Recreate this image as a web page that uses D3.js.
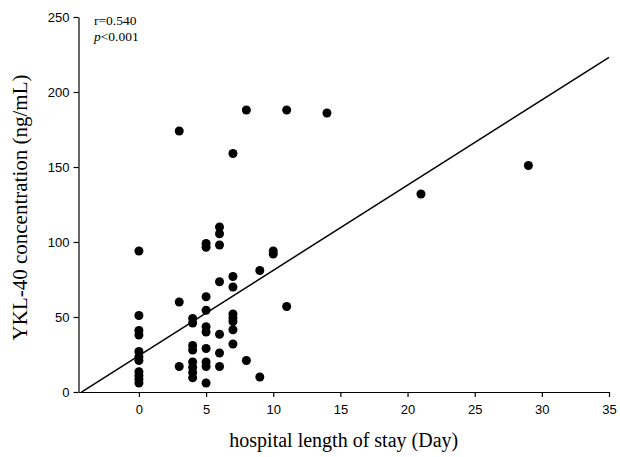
<!DOCTYPE html>
<html>
<head>
<meta charset="utf-8">
<script src="https://cdn.jsdelivr.net/npm/d3@7"></script>
<style>
  body { margin: 0; background: #fff; }
  .tick text { font-family: "Liberation Sans", Arial, sans-serif; font-size: 13px; }
</style>
</head>
<body>
<script>
// hospital stay (days) and YKL-40 (ng/mL)
var stayDays = [
  0, 0, 0, 0, 0, 0, 0, 0, 0, 0, 0,
  3, 3, 3,
  4, 4, 4, 4, 4, 4, 4, 4,
  5, 5, 5, 5, 5, 5, 5, 5, 5, 5,
  6, 6, 6, 6, 6, 6, 6,
  7, 7, 7, 7, 7, 7, 7, 7,
  8, 8,
  9, 9,
  10, 10,
  11, 11,
  14, 21, 29
];
var ykl40 = [
  94, 51, 41, 38, 27, 23.5, 21, 13.5, 11, 8.5, 6,
  174, 60, 17,
  49, 46, 31, 28, 20, 16.5, 13, 9.5,
  99, 96.5, 63.5, 54.5, 43.5, 40, 29, 20, 17, 6,
  110, 105.5, 98, 73.5, 38.5, 26, 17,
  159, 77, 70, 52, 49.5, 47, 41.5, 32,
  188, 21,
  81, 10,
  94, 92,
  188, 57,
  186, 132, 151
];
var xTicks = [0, 5, 10, 15, 20, 25, 30, 35];
var yTicks = [0, 50, 100, 150, 200, 250];
// fitted line: intercept, slope, and x range drawn
var fitIntercept = 24.3;
var fitSlope = 5.68;
var fitRange = [-4.28, 35];
var stats = ["r=0.540", "p<0.001"];

var width = 620;
var height = 457;

var svg = d3.select('body').append('svg')
  .attr('width', width)
  .attr('height', height);

var x = d3.scaleLinear().domain([-4.5, 35]).range([78.5, 609]);
var y = d3.scaleLinear().domain([0, 250]).range([392, 17]);

var xAxis = svg.append('g')
  .attr('transform', 'translate(0,' + y(0) + ')')
  .call(d3.axisBottom(x).tickValues(xTicks).tickSize(5).tickPadding(8).tickSizeOuter(0));

var yAxis = svg.append('g')
  .attr('transform', 'translate(' + x(-4.5) + ',0)')
  .call(d3.axisLeft(y).tickValues(yTicks).tickSize(5).tickPadding(4).tickSizeOuter(0));

svg.selectAll('.domain, .tick line').attr('stroke', '#000').attr('stroke-width', 1.2);
svg.selectAll('.tick text').attr('fill', '#000');

// regression line
svg.append('line')
  .attr('x1', x(fitRange[0]))
  .attr('y1', y(fitIntercept + fitSlope * fitRange[0]))
  .attr('x2', x(fitRange[1]))
  .attr('y2', y(fitIntercept + fitSlope * fitRange[1]))
  .attr('stroke', '#000')
  .attr('stroke-width', 1.5);

svg.append('g').selectAll('circle')
  .data(stayDays)
  .enter().append('circle')
  .attr('cx', function(d) { return x(d); })
  .attr('cy', function(d, i) { return y(ykl40[i]); })
  .attr('r', 4.5)
  .attr('fill', '#000');

svg.append('text')
  .attr('x', 94)
  .attr('y', 25)
  .attr('font-family', '"Liberation Serif", "Times New Roman", serif')
  .attr('font-size', 13.5)
  .text(stats[0]);

var pText = svg.append('text')
  .attr('x', 94)
  .attr('y', 41)
  .attr('font-family', '"Liberation Serif", "Times New Roman", serif')
  .attr('font-size', 13.5);
pText.append('tspan').attr('font-style', 'italic').text(stats[1].slice(0, 1));
pText.append('tspan').text(stats[1].slice(1));

svg.append('text')
  .attr('x', (x(-4.5) + x(35)) / 2)
  .attr('y', 447)
  .attr('text-anchor', 'middle')
  .attr('font-family', '"Liberation Serif", "Times New Roman", serif')
  .attr('font-size', 20)
  .text('hospital length of stay (Day)');

svg.append('text')
  .attr('transform', 'translate(27,' + y(123) + ') rotate(-90)')
  .attr('text-anchor', 'middle')
  .attr('font-family', '"Liberation Serif", "Times New Roman", serif')
  .attr('font-size', 21)
  .text('YKL-40 concentration (ng/mL)');
</script>
</body>
</html>
